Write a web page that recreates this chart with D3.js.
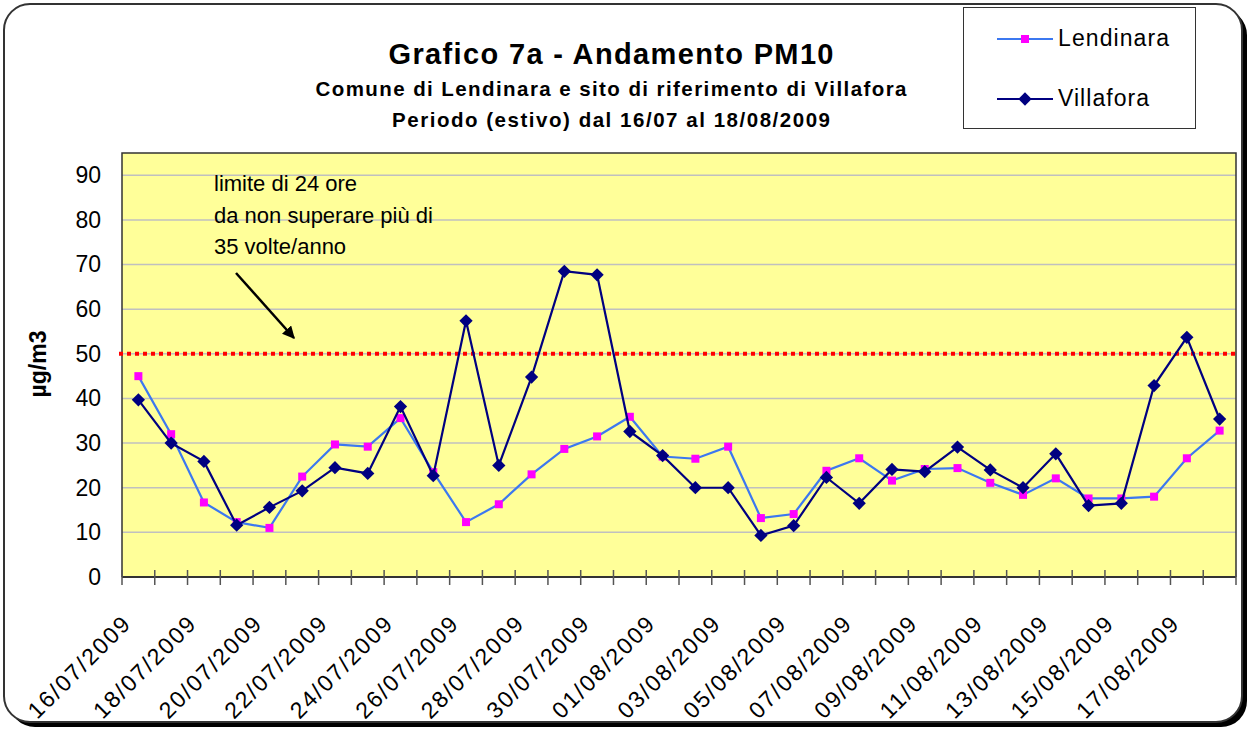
<!DOCTYPE html>
<html>
<head>
<meta charset="utf-8">
<script src="https://cdn.jsdelivr.net/npm/d3@7"></script>
<style>
  body { margin: 0; background: #fff; }
  svg { display: block; font-family: Arial, "Liberation Sans", sans-serif; }
</style>
</head>
<body>
<script>
// dates (one point per day)
var dates = ["16/07/2009","17/07/2009","18/07/2009","19/07/2009","20/07/2009","21/07/2009",
  "22/07/2009","23/07/2009","24/07/2009","25/07/2009","26/07/2009","27/07/2009","28/07/2009",
  "29/07/2009","30/07/2009","31/07/2009","01/08/2009","02/08/2009","03/08/2009","04/08/2009",
  "05/08/2009","06/08/2009","07/08/2009","08/08/2009","09/08/2009","10/08/2009","11/08/2009",
  "12/08/2009","13/08/2009","14/08/2009","15/08/2009","16/08/2009","17/08/2009","18/08/2009"];

// PM10 daily values, µg/m3
var lendinara = [45, 32, 16.7, 12.3, 11, 22.5, 29.7, 29.2, 35.6, 23.5, 12.3, 16.3,
  23, 28.7, 31.5, 35.9, 27, 26.5, 29.2, 13.2, 14.1, 23.8, 26.6, 21.6,
  24.2, 24.4, 21.1, 18.4, 22.1, 17.6, 17.6, 18, 26.6, 32.8];
var villafora = [39.7, 30, 25.9, 11.6, 15.6, 19.3, 24.5, 23.2, 38.2, 22.7, 57.4, 25,
  44.8, 68.5, 67.7, 32.6, 27.2, 20, 20, 9.3, 11.5, 22.3, 16.5, 24.1,
  23.6, 29.1, 24, 20, 27.6, 16, 16.5, 42.9, 53.7, 35.4];

var yTicks = [0, 10, 20, 30, 40, 50, 60, 70, 80, 90];
var limitValue = 50;
var noteLines = ["limite di 24 ore", "da non superare più di", "35 volte/anno"];

var W = 1248, H = 729;
var plot = {left: 122, right: 1236, top: 153, bottom: 577};

var svg = d3.select("body").append("svg")
    .attr("width", W)
    .attr("height", H);

// outer frame with shadow
svg.append("rect")
    .attr("x", 9).attr("y", 9).attr("width", 1238).attr("height", 718)
    .attr("rx", 26).attr("fill", "#000");
svg.append("rect")
    .attr("x", 4).attr("y", 4).attr("width", 1238).attr("height", 718)
    .attr("rx", 26).attr("fill", "#fff")
    .attr("stroke", "#333").attr("stroke-width", 2);

var x = d3.scaleBand()
    .domain(dates)
    .range([plot.left, plot.right])
    .padding(0);
var bw = x.bandwidth();
var y = d3.scaleLinear()
    .domain([0, 95])
    .range([plot.bottom, plot.top]);

// plot background
svg.append("rect")
    .attr("x", plot.left).attr("y", plot.top)
    .attr("width", plot.right - plot.left).attr("height", plot.bottom - plot.top)
    .attr("fill", "#FFFF99");

// gridlines
svg.append("g")
    .selectAll("line")
    .data(yTicks.filter(function(d){ return d > 0; }))
    .enter()
    .append("line")
    .attr("x1", plot.left).attr("x2", plot.right)
    .attr("y1", function(d){ return y(d); })
    .attr("y2", function(d){ return y(d); })
    .attr("stroke", "#C0C0C0")
    .attr("stroke-width", 1.5);

// plot border
svg.append("path")
    .attr("d", "M" + plot.left + "," + plot.bottom + "V" + plot.top + "H" + plot.right + "V" + plot.bottom)
    .attr("fill", "none")
    .attr("stroke", "#333")
    .attr("stroke-width", 1.5);

// y axis labels
var yAxis = svg.append("g")
    .attr("transform", "translate(" + plot.left + ",0)")
    .call(d3.axisLeft(y).tickValues(yTicks).tickSize(0).tickPadding(21));
yAxis.select(".domain").remove();
yAxis.selectAll("text")
    .attr("font-size", "23px")
    .attr("font-family", "Arial, 'Liberation Sans', sans-serif")
    .attr("fill", "#000");

// x axis line + ticks between categories
svg.append("line")
    .attr("x1", plot.left).attr("x2", plot.right)
    .attr("y1", plot.bottom).attr("y2", plot.bottom)
    .attr("stroke", "#333").attr("stroke-width", 2);
svg.append("g")
    .selectAll("line")
    .data(dates.concat(["end"]))
    .enter()
    .append("line")
    .attr("x1", function(d){ return d === "end" ? plot.right : x(d); })
    .attr("x2", function(d){ return d === "end" ? plot.right : x(d); })
    .attr("y1", plot.bottom - 7).attr("y2", plot.bottom + 8)
    .attr("stroke", "#555").attr("stroke-width", 1.5);

// x labels, every second day, rotated
svg.append("g")
    .selectAll("text")
    .data(dates.filter(function(d, i){ return i % 2 === 0; }))
    .enter()
    .append("text")
    .attr("transform", function(d){
        return "translate(" + (x(d) + bw / 2 - 7) + "," + (plot.bottom + 49) + ") rotate(-45)";
    })
    .attr("text-anchor", "end")
    .attr("font-size", "23px")
    .attr("textLength", 133)
    .attr("lengthAdjust", "spacing")
    .text(function(d){ return d; });

// limit line at 50
svg.append("line")
    .attr("x1", plot.left - 3).attr("x2", plot.right)
    .attr("y1", y(limitValue)).attr("y2", y(limitValue))
    .attr("stroke", "#FF0000")
    .attr("stroke-width", 4)
    .attr("stroke-dasharray", "4,4");

// note + arrow
var note = svg.append("g");
note.selectAll("text")
    .data(noteLines)
    .enter()
    .append("text")
    .attr("x", 214)
    .attr("y", function(d, i){ return 191 + i * 31.5; })
    .attr("font-size", "22px")
    .text(function(d){ return d; });

svg.append("defs").append("marker")
    .attr("id", "arrow")
    .attr("viewBox", "0 0 10 10")
    .attr("refX", 9).attr("refY", 5)
    .attr("markerWidth", 5).attr("markerHeight", 5)
    .attr("markerUnits", "strokeWidth")
    .attr("orient", "auto")
    .append("path")
    .attr("d", "M0,0L10,5L0,10z")
    .attr("fill", "#000");
svg.append("line")
    .attr("x1", 236).attr("y1", 273)
    .attr("x2", 294).attr("y2", 338)
    .attr("stroke", "#000")
    .attr("stroke-width", 2.5)
    .attr("marker-end", "url(#arrow)");

// series
var line = d3.line()
    .x(function(d, i){ return x(dates[i]) + bw / 2; })
    .y(function(d){ return y(d); });

svg.append("path")
    .datum(lendinara)
    .attr("d", line)
    .attr("fill", "none")
    .attr("stroke", "#3C78F0")
    .attr("stroke-width", 2.2);
svg.append("g")
    .selectAll("rect")
    .data(lendinara)
    .enter()
    .append("rect")
    .attr("x", function(d, i){ return x(dates[i]) + bw / 2 - 4; })
    .attr("y", function(d){ return y(d) - 4; })
    .attr("width", 8).attr("height", 8)
    .attr("fill", "#FF00FF");

svg.append("path")
    .datum(villafora)
    .attr("d", line)
    .attr("fill", "none")
    .attr("stroke", "#000080")
    .attr("stroke-width", 2.2);
var diamond = d3.symbol().type(d3.symbolDiamond2).size(112);
svg.append("g")
    .selectAll("path")
    .data(villafora)
    .enter()
    .append("path")
    .attr("transform", function(d, i){ return "translate(" + (x(dates[i]) + bw / 2) + "," + y(d) + ")"; })
    .attr("d", diamond)
    .attr("fill", "#000080");

// y axis title
svg.append("text")
    .attr("transform", "translate(46,364) rotate(-90)")
    .attr("text-anchor", "middle")
    .attr("font-size", "23px")
    .attr("font-weight", "bold")
    .text("µg/m3");

// titles
var titles = [
    {t: "Grafico 7a - Andamento PM10", y: 64, size: 29, len: 445},
    {t: "Comune di Lendinara e sito di riferimento di Villafora", y: 96, size: 20.5, len: 591},
    {t: "Periodo (estivo) dal 16/07 al 18/08/2009", y: 127, size: 20.5, len: 438}
];
svg.append("g")
    .selectAll("text")
    .data(titles)
    .enter()
    .append("text")
    .attr("x", 611)
    .attr("y", function(d){ return d.y; })
    .attr("text-anchor", "middle")
    .attr("font-weight", "bold")
    .attr("font-size", function(d){ return d.size + "px"; })
    .attr("textLength", function(d){ return d.len; })
    .attr("lengthAdjust", "spacing")
    .text(function(d){ return d.t; });

// legend
var legend = svg.append("g");
legend.append("rect")
    .attr("x", 963.5).attr("y", 7.5).attr("width", 232).attr("height", 121)
    .attr("fill", "#fff").attr("stroke", "#333").attr("stroke-width", 1);
var items = [
    {name: "Lendinara", color: "#3C78F0", y: 39, len: 111},
    {name: "Villafora", color: "#000080", y: 99, len: 91}
];
items.forEach(function(it, i){
    legend.append("line")
        .attr("x1", 997).attr("x2", 1053)
        .attr("y1", it.y).attr("y2", it.y)
        .attr("stroke", it.color).attr("stroke-width", 2.2);
    if (i === 0) {
        legend.append("rect")
            .attr("x", 1021).attr("y", it.y - 4).attr("width", 8).attr("height", 8)
            .attr("fill", "#FF00FF");
    } else {
        legend.append("path")
            .attr("transform", "translate(1025," + it.y + ")")
            .attr("d", diamond)
            .attr("fill", "#000080");
    }
    legend.append("text")
        .attr("x", 1058)
        .attr("y", it.y + 7)
        .attr("font-size", "23px")
        .attr("textLength", it.len)
        .attr("lengthAdjust", "spacing")
        .text(it.name);
});
</script>
</body>
</html>
